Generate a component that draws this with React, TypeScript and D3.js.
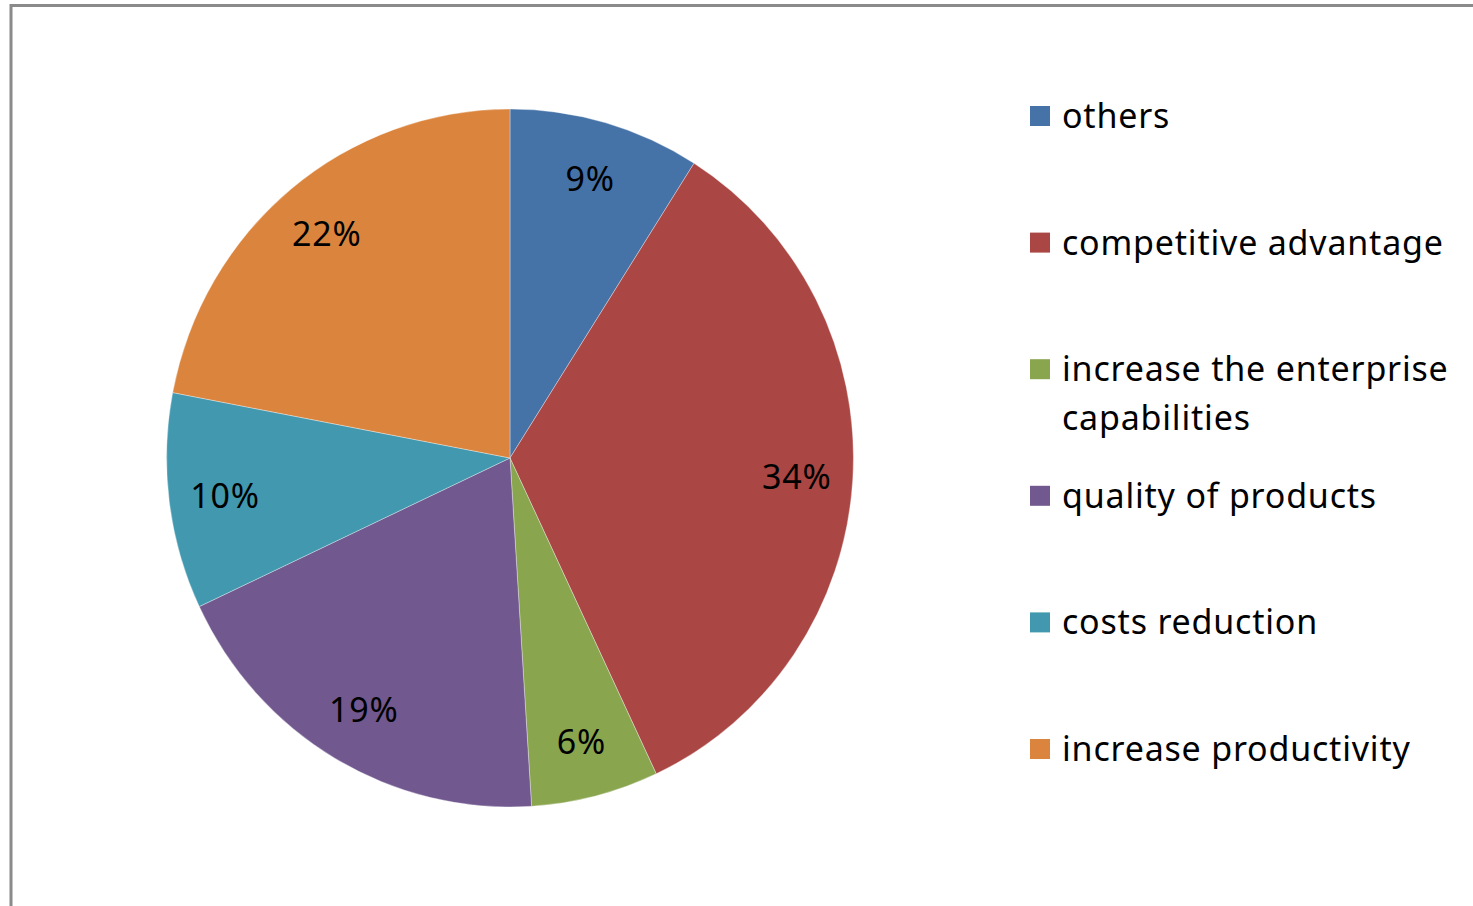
import React from 'react';
import * as d3 from 'd3';

const categories = ['others', 'competitive advantage', 'increase the enterprise capabilities', 'quality of products', 'costs reduction', 'increase productivity'];
const values = [9, 34, 6, 19, 10, 22];
const colors = ['#4572A7', '#AA4643', '#89A54E', '#71588F', '#4198AF', '#DB843D'];
// legend text split into lines as in the picture
const legendLines = [['others'], ['competitive advantage'], ['increase the enterprise', 'capabilities'], ['quality of products'], ['costs reduction'], ['increase productivity']];

const App: React.FC = () => {
  const width = 1473;
  const height = 906;
  const cx = 510;
  const cy = 458;
  const radius = 349;
  const squeezeX = 0.984; // the pie in the picture is a touch narrower than tall
  const labelRadius = 292;
  const font = "'Noto Sans', 'Open Sans', sans-serif";
  const fontSize = 34;

  const pie = d3.pie<number>().sort(null).value(d => d);
  const arcs = pie(values);
  const arc = d3.arc<d3.PieArcDatum<number>>().innerRadius(0).outerRadius(radius);
  const labelArc = d3.arc<d3.PieArcDatum<number>>().innerRadius(labelRadius).outerRadius(labelRadius);

  const legendX = 1030;
  const legendTop = 128;
  const legendStep = 126.6;
  const lineGap = 49;

  return (
    <svg width={width} height={height} style={{position: 'absolute', left: 0, top: 0, background: '#fff'}}>
      <rect x={11} y={5.5} width={width + 20} height={height + 20} fill="#fff" stroke="#8a8a8a" strokeWidth={3}/>
      <g transform={`translate(${cx}, ${cy}) scale(${squeezeX}, 1)`}>
        {arcs.map((a, i) => (
          <path key={categories[i]} d={arc(a) || ''} fill={colors[i]} stroke="#ffffff" strokeOpacity={0.35} strokeWidth={1}/>
        ))}
      </g>
      <g transform={`translate(${cx}, ${cy})`}>
        {arcs.map((a, i) => {
          const [lx, ly] = labelArc.centroid(a);
          return (
            <text key={'l' + i} x={lx * squeezeX} y={ly} textAnchor="middle" dominantBaseline="central"
              fontFamily={font} fontSize={fontSize} letterSpacing={0.8} fill="#000">{values[i]}%</text>
          );
        })}
      </g>
      {legendLines.map((lines, i) => {
        const base = legendTop + i * legendStep;
        return (
          <g key={'lg' + i}>
            <rect x={legendX} y={base - 22} width={20} height={20} fill={colors[i]}/>
            {lines.map((t, j) => (
              <text key={t} x={legendX + 32} y={base + j * lineGap} fontFamily={font} fontSize={fontSize}
                letterSpacing={0.8} fill="#000">{t}</text>
            ))}
          </g>
        );
      })}
    </svg>
  );
};

export default App;
